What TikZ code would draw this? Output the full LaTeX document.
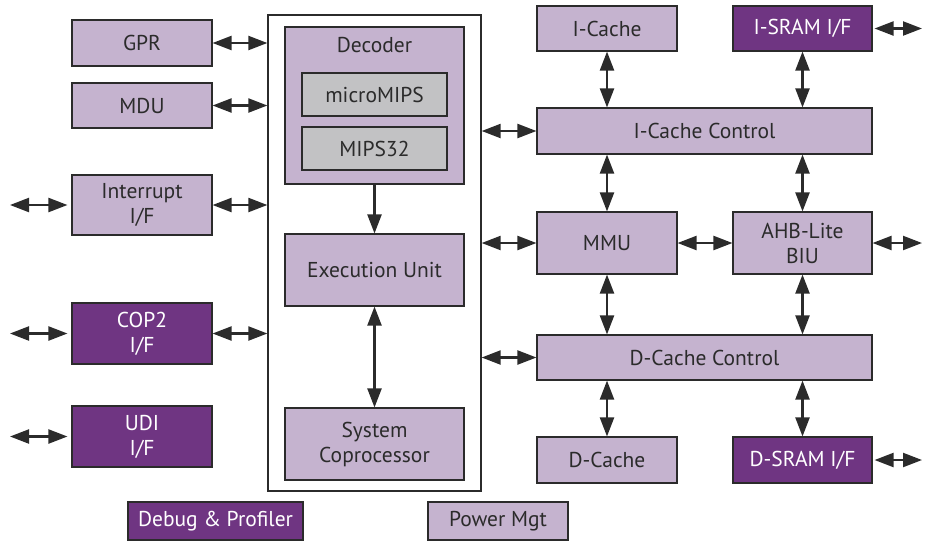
\documentclass[tikz,border=0pt]{standalone}
\usepackage{fontspec}
\setmainfont{PT Sans}
\usetikzlibrary{arrows.meta}

\definecolor{lilac}{HTML}{C5B3CF}
\definecolor{plum}{HTML}{6F3582}
\definecolor{chipgrey}{HTML}{C2C2C4}
\definecolor{inkgrey}{HTML}{2B2B2B}

\begin{document}
\begin{tikzpicture}[x=1pt,y=-1pt,
    blk/.style={draw=inkgrey,line width=1.1pt,fill=lilac,text=inkgrey,align=center,
      inner sep=0pt,font=\fontsize{21.5}{25}\selectfont},
    dark/.style={blk,fill=plum,text=white},
    isa/.style={blk,fill=chipgrey},
    bus/.style={line width=2.2pt,draw=inkgrey,{Triangle[length=19pt,width=14pt]}-{Triangle[length=19pt,width=14pt]}},
    flow/.style={line width=2.2pt,draw=inkgrey,-{Triangle[length=19pt,width=14pt]}}]
	\useasboundingbox (0,0) rectangle (925,542);

	% core frame
	\node[draw=inkgrey,line width=1.3pt,minimum width=213pt,minimum height=476pt,inner sep=0pt] (core) at (374.5,253) {};

	% left column
	\node[blk,minimum width=140pt,minimum height=46pt] (gpr) at (142,43) {GPR};
	\node[blk,minimum width=140pt,minimum height=45pt] (mdu) at (142,105.5) {MDU};
	\node[blk,minimum width=140pt,minimum height=60pt] (intr) at (142,205) {Interrupt\\I/F};
	\node[dark,minimum width=140pt,minimum height=61pt] (cop2) at (142,333.5) {COP2\\I/F};
	\node[dark,minimum width=140pt,minimum height=61pt] (udi) at (142,436.5) {UDI\\I/F};

	% inside the core
	\node[blk,minimum width=179pt,minimum height=157pt,
	  label={[blk,draw=none,fill=none,anchor=north,yshift=-10pt]north:Decoder}] (dec) at (374.5,105.5) {};
	\node[isa,minimum width=145pt,minimum height=43pt] (umips) at (374.5,94.5) {microMIPS};
	\node[isa,minimum width=145pt,minimum height=43pt] (mips32) at (374.5,148.5) {MIPS32};
	\node[blk,minimum width=179pt,minimum height=72pt] (exec) at (374.5,270) {Execution Unit};
	\node[blk,minimum width=179pt,minimum height=72pt] (syscp) at (374.5,444) {System\\Coprocessor};

	% bottom row
	\node[dark,minimum width=175pt,minimum height=38pt] (dbg) at (215.5,521) {Debug \& Profiler};
	\node[blk,minimum width=140pt,minimum height=38pt] (pwr) at (498,521) {Power Mgt};

	% memory side
	\node[blk,minimum width=140pt,minimum height=45pt] (icache) at (607,28.5) {I-Cache};
	\node[dark,minimum width=139pt,minimum height=45pt] (isram) at (802.5,28.5) {I-SRAM I/F};
	\node[blk,minimum width=335pt,minimum height=46pt] (icc) at (704.5,131) {I-Cache Control};
	\node[blk,minimum width=140pt,minimum height=62pt] (mmu) at (607,243) {MMU};
	\node[blk,minimum width=139pt,minimum height=62pt] (biu) at (802.5,243) {AHB-Lite\\BIU};
	\node[blk,minimum width=335pt,minimum height=45pt] (dcc) at (704.5,357.5) {D-Cache Control};
	\node[blk,minimum width=140pt,minimum height=46pt] (dcache) at (607,460) {D-Cache};
	\node[dark,minimum width=139pt,minimum height=46pt] (dsram) at (802.5,460) {D-SRAM I/F};

	% outside ends
	\coordinate (intr-in) at (10,205);
	\coordinate (cop2-in) at (10,333.5);
	\coordinate (udi-in) at (10,436.5);
	\coordinate (isram-out) at (922,28.5);
	\coordinate (biu-out) at (922,243);
	\coordinate (dsram-out) at (922,460);

	\path [bus] (gpr.east) -- (gpr.east -| core.west);
	\path [bus] (mdu.east) -- (mdu.east -| core.west);
	\path [bus] (intr.east) -- (intr.east -| core.west);
	\path [bus] (cop2.east) -- (cop2.east -| core.west);
	\path [bus] (intr-in) -- ([xshift=-4pt]intr.west);
	\path [bus] (cop2-in) -- ([xshift=-4pt]cop2.west);
	\path [bus] (udi-in) -- ([xshift=-4pt]udi.west);

	\path [flow] (dec.south) -- (exec.north);
	\path [bus] (exec.south) -- (syscp.north);

	\path [bus] (icc.west -| core.east) -- (icc.west);
	\path [bus] (mmu.west -| core.east) -- (mmu.west);
	\path [bus] (dcc.west -| core.east) -- (dcc.west);

	\path [bus] (icache.south) -- (icache.south |- icc.north);
	\path [bus] (isram.south) -- (isram.south |- icc.north);
	\path [bus] (mmu.north) -- (mmu.north |- icc.south);
	\path [bus] (biu.north) -- (biu.north |- icc.south);
	\path [bus] (mmu.east) -- (biu.west);
	\path [bus] (mmu.south) -- (mmu.south |- dcc.north);
	\path [bus] (biu.south) -- (biu.south |- dcc.north);
	\path [bus] (dcache.north) -- (dcache.north |- dcc.south);
	\path [bus] (dsram.north) -- (dsram.north |- dcc.south);

	\path [bus] ([xshift=2pt]isram.east) -- (isram-out);
	\path [bus] (biu.east) -- (biu-out);
	\path [bus] ([xshift=2pt]dsram.east) -- (dsram-out);
\end{tikzpicture}
\end{document}
